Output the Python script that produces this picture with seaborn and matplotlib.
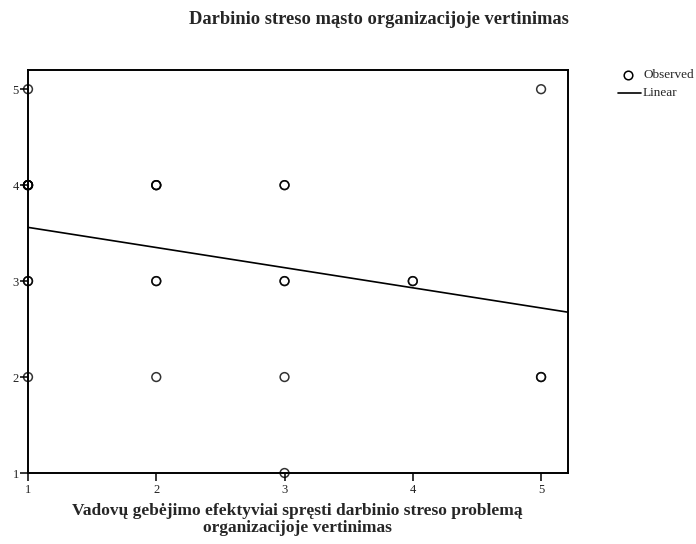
import matplotlib
matplotlib.use("Agg")
import matplotlib.pyplot as plt
import seaborn as sns
import pandas as pd
from matplotlib.lines import Line2D

# Data (overlapping points appear bolder)
x_vals = [1, 1, 1, 1, 1, 1, 1, 1, 1,
          2, 2, 2, 2, 2, 2,
          3, 3, 3, 3, 3, 3,
          4, 4,
          5, 5, 5]
y_vals = [5, 4, 4, 4, 4, 4, 3, 3, 2,
          4, 4, 4, 3, 3, 2,
          4, 4, 3, 3, 2, 1,
          3, 3,
          5, 2, 2]
x_ticks = [1, 2, 3, 4, 5]
y_ticks = [1, 2, 3, 4, 5]
title = "Darbinio streso mąsto organizacijoje vertinimas"
xlabel_lines = ["Vadovų gebėjimo efektyviai spręsti darbinio streso problemą",
                "organizacijoje vertinimas"]
legend_labels = ["Observed", "Linear"]

df = pd.DataFrame({"x": x_vals, "y": y_vals})

sns.set_style("white")
plt.rcParams["font.family"] = ["Liberation Serif", "DejaVu Serif"]

W, H = 696, 544
fig = plt.figure(figsize=(W/100, H/100), dpi=100)
ax = fig.add_axes([28/W, 1-473/H, 540/W, 403/H])
ax.set_xlim(1, 5.21)
ax.set_ylim(1, 5.2)

sns.regplot(data=df, x="x", y="y", ax=ax, ci=None, truncate=False,
            scatter_kws=dict(facecolors="none", edgecolors="black", s=40, linewidths=1.1,
                             clip_on=False, zorder=3),
            line_kws=dict(color="black", lw=1.2))

ax.set_xticks(x_ticks)
ax.set_yticks(y_ticks)
ax.set_xticklabels([str(t) for t in x_ticks], fontsize=9)
ax.set_yticklabels([str(t) for t in y_ticks], fontsize=9)
ax.tick_params(axis="both", which="major", bottom=True, left=True, direction="out",
               length=6, width=1.1, color="black", labelcolor="#222222")
ax.tick_params(axis="y", pad=0.5)
ax.tick_params(axis="x", pad=2)
for s in ax.spines.values():
    s.set_color("black")
    s.set_linewidth(1.4)
ax.set_xlabel("")
ax.set_ylabel("")

fig.text(379/W, 1-19/H, title, ha="center", va="center", fontsize=13.3, fontweight="bold")
fig.text(297/W, 1-511/H, xlabel_lines[0], ha="center", va="center", fontsize=12.5, fontweight="bold")
fig.text(297/W, 1-528/H, xlabel_lines[1], ha="center", va="center", fontsize=12.5, fontweight="bold")

# Legend (drawn in figure coordinates)
fig.add_artist(Line2D([628/W], [1-75/H], marker="o", ls="none", mfc="none", mec="black",
                      ms=6.2, mew=1.1, transform=fig.transFigure))
fig.add_artist(Line2D([618/W, 641/W], [1-93/H, 1-93/H], color="black", lw=1.2,
                      transform=fig.transFigure))
fig.text(644/W, 1-75/H, legend_labels[0], ha="left", va="center", fontsize=9.5)
fig.text(643/W, 1-93/H, legend_labels[1], ha="left", va="center", fontsize=9.5)

fig.savefig("out.png", dpi=100)
